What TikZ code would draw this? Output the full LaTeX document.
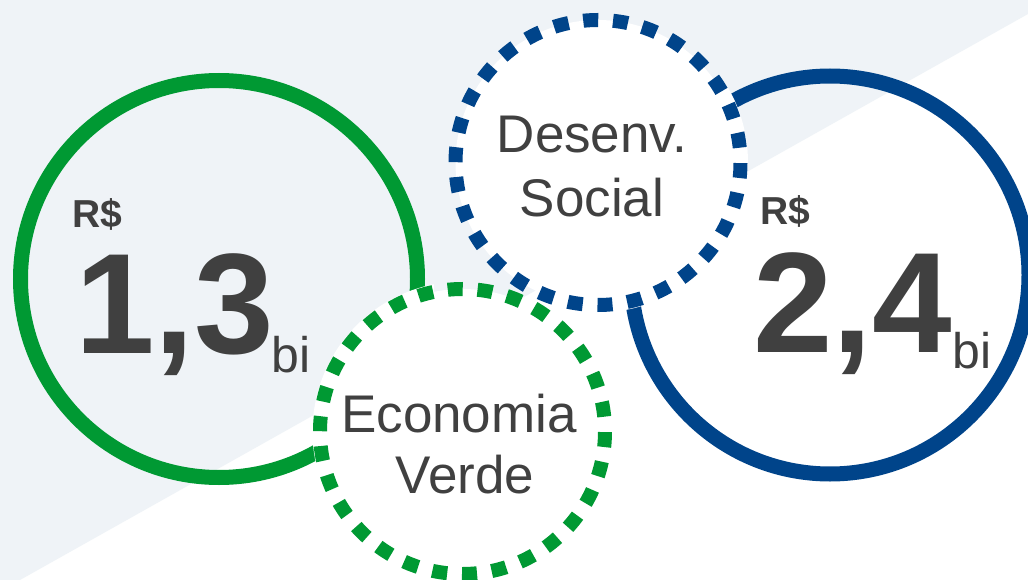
\documentclass[tikz,border=0pt]{standalone}
\usepackage{fontspec}
\setmainfont{Liberation Sans}
\definecolor{bgGray}{HTML}{EFF3F7}
\definecolor{cGreen}{HTML}{009933}
\definecolor{cBlue}{HTML}{00448A}
\definecolor{txt}{HTML}{404040}
\tikzset{
  ring/.style={circle, inner sep=0pt, line width=15pt},
  dring/.style={circle, inner sep=0pt, line width=14pt, fill=white,
    dash pattern=on 15pt off 14.83pt, dash phase=15pt},
  small/.style={inner sep=0pt, text=txt, font=\bfseries\fontsize{39}{39}\selectfont},
  big/.style={inner sep=0pt, text=txt, font=\bfseries\fontsize{143}{143}\selectfont},
  unit/.style={inner sep=0pt, text=txt, font=\fontsize{50}{50}\selectfont},
  lbl/.style={inner sep=0pt, text=txt, font=\fontsize{53}{53}\selectfont, anchor=base}
}
\begin{document}
\begin{tikzpicture}[x=1pt,y=-1pt]
\useasboundingbox (0,0) rectangle (1028,580);
\fill[white] (0,0) rectangle (1028,580);
\fill[bgGray] (0,0) -- (1028,0) -- (1028,14) -- (20,580) -- (0,580) -- cycle;

% solid rings
\node[ring, draw=cGreen, minimum size=397pt] (gring) at (219,279) {};
\node[ring, draw=cBlue, minimum size=398pt] (bring) at (830,275) {};

% hide ring parts under the dashed circles
\begin{scope}
  \clip (830,275) circle[radius=215pt];
  \fill[white] (598,162.5) circle[radius=150pt];
\end{scope}
\begin{scope}
  \clip (219,279) circle[radius=215pt];
  \fill[white] (462.5,431.5) circle[radius=150pt];
\end{scope}

% dashed circles
\node[dring, draw=cBlue, minimum size=285pt] (social) at (598,162.5) {};
\node[dring, draw=cGreen, minimum size=285pt] (verde) at (462.5,431.5) {};

% texts left
\node[small, anchor=base west] (rs1) at (72,228) {R\$};
\node[big, anchor=base west] (v1) at (75,353) {1,3};
\node[unit, anchor=base west] (bi1) at (271,372) {bi};

% texts right
\node[small, anchor=base west] (rs2) at (760,225) {R\$};
\node[big, anchor=base west] (v2) at (753,352) {2,4};
\node[unit, anchor=base west] (bi2) at (952,368) {bi};

% labels
\node[lbl] (t1) at (592,153) {Desenv.};
\node[lbl] (t2) at (592,217) {Social};
\node[lbl] (t3) at (459,432) {Economia};
\node[lbl] (t4) at (465,493) {Verde};
\end{tikzpicture}
\end{document}
